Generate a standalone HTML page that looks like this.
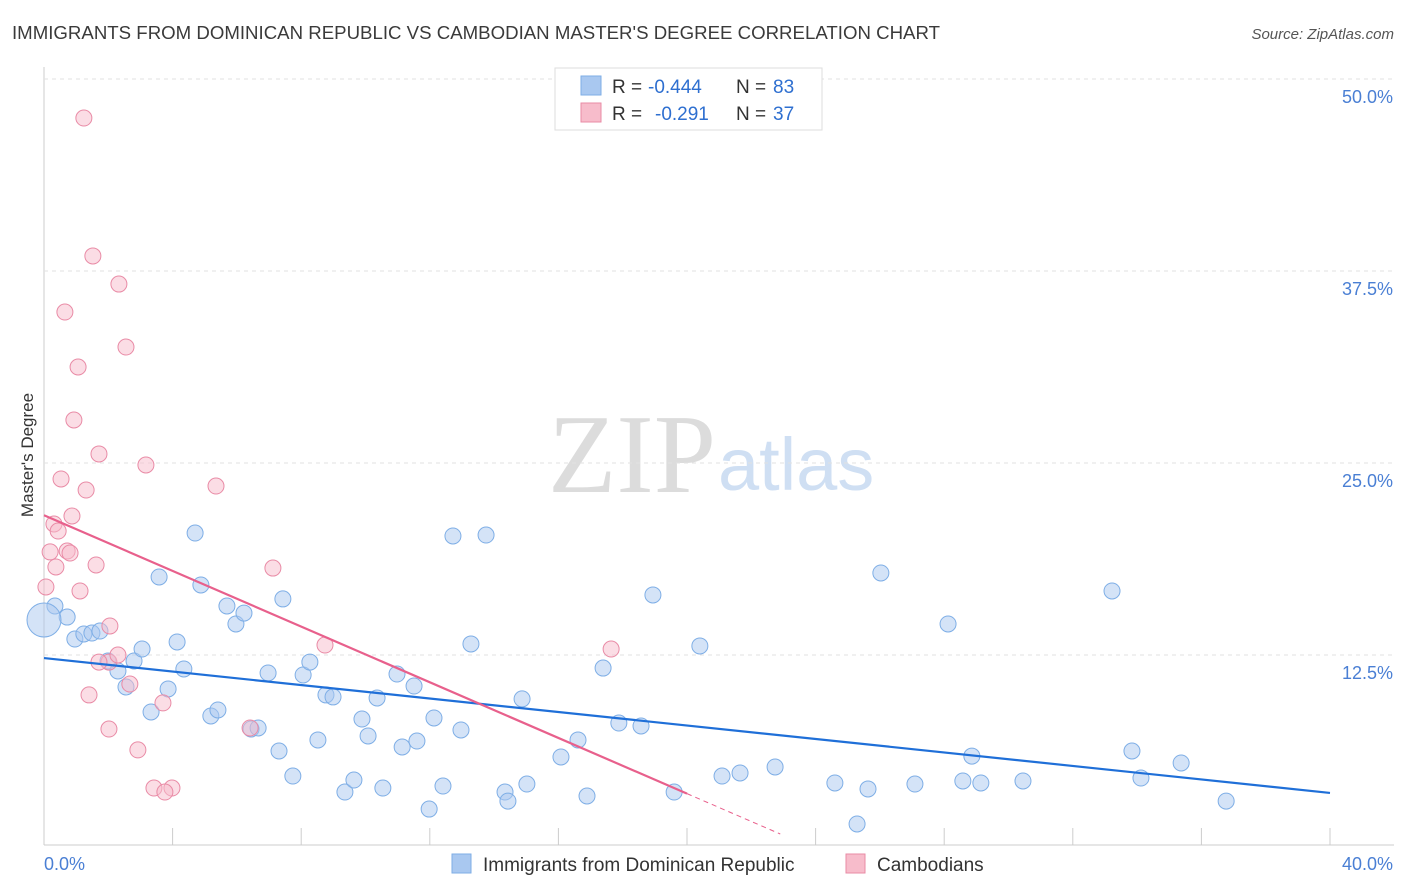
<!DOCTYPE html>
<html><head><meta charset="utf-8"><style>
body{margin:0;background:#fff;font-family:"Liberation Sans",sans-serif;}
svg{display:block}
</style></head><body>
<svg id="chart" width="1406" height="892">
<text x="12" y="39" font-size="18" fill="#3a3a3a" textLength="928" lengthAdjust="spacingAndGlyphs">IMMIGRANTS FROM DOMINICAN REPUBLIC VS CAMBODIAN MASTER'S DEGREE CORRELATION CHART</text>
<text x="1394" y="39" font-size="15" fill="#555" font-style="italic" text-anchor="end">Source: ZipAtlas.com</text>
<text x="716" y="492" font-size="112" fill="#dcdcdc" text-anchor="end" font-family="Liberation Serif,serif">ZIP</text>
<text x="718" y="490" font-size="74" fill="#cfdff3">atlas</text>
<text transform="translate(33,455) rotate(-90)" font-size="17" fill="#333" text-anchor="middle">Master's Degree</text>
<g id="grid"></g><g id="pts"></g><g id="lines"></g>
<g>
<rect x="555" y="68" width="267" height="62" fill="#fff" stroke="#ddd"/>
<rect x="581" y="76" width="20" height="19" fill="#a9c8f0" stroke="#7eaee6"/>
<rect x="581" y="103" width="20" height="19" fill="#f7bccb" stroke="#e98ba6"/>
<text x="612" y="93" font-size="19" fill="#333">R =</text>
<text x="648" y="93" font-size="19" fill="#2e6fd0">-0.444</text>
<text x="736" y="93" font-size="19" fill="#333">N =</text>
<text x="773" y="93" font-size="19" fill="#2e6fd0">83</text>
<text x="612" y="120" font-size="19" fill="#333">R =</text>
<text x="655" y="120" font-size="19" fill="#2e6fd0">-0.291</text>
<text x="736" y="120" font-size="19" fill="#333">N =</text>
<text x="773" y="120" font-size="19" fill="#2e6fd0">37</text>
</g>
<g>
<rect x="452" y="854" width="19" height="19" fill="#a9c8f0" stroke="#7eaee6"/>
<text x="483" y="871" font-size="19" fill="#333">Immigrants from Dominican Republic</text>
<rect x="846" y="854" width="19" height="19" fill="#f7bccb" stroke="#e98ba6"/>
<text x="877" y="871" font-size="19" fill="#333">Cambodians</text>
</g>
</svg>
<script>
const xTicks=[0,4,8,12,16,20,24,28,32,36,40];
const yTicks=[12.5,25,37.5,50];
const blueX=[0.34,0.72,0.96,1.24,1.49,1.74,1.99,2.30,2.55,2.80,3.05,3.33,3.58,3.86,4.14,4.35,4.70,4.88,5.19,5.41,5.69,5.97,6.22,6.44,6.66,6.97,7.31,7.43,7.74,8.06,8.27,8.52,8.77,8.99,9.36,9.64,9.89,10.08,10.36,10.54,10.98,11.14,11.51,11.60,11.98,12.13,12.41,12.72,12.97,13.28,13.75,14.34,14.43,14.87,15.02,16.08,16.61,16.89,17.39,17.88,18.57,18.94,19.60,20.40,21.09,21.65,22.74,24.60,25.29,25.63,26.03,27.09,28.12,28.58,28.86,29.14,30.45,33.22,33.84,34.12,35.37,36.77,0];
const blueY=[15.69,14.97,13.54,13.87,13.93,14.06,12.11,11.46,10.42,12.11,12.89,8.79,17.58,10.29,13.35,11.59,20.44,17.06,8.53,8.92,15.69,14.52,15.23,7.68,7.75,11.33,6.25,16.15,4.62,11.20,12.04,6.97,9.90,9.77,3.58,4.36,8.33,7.23,9.70,3.84,11.26,6.51,10.48,6.90,2.47,8.40,3.97,20.25,7.62,13.22,20.31,3.58,2.99,9.64,4.10,5.86,6.97,3.32,11.65,8.07,7.88,16.41,3.58,13.09,4.62,4.82,5.21,4.17,1.50,3.78,17.84,4.10,14.52,4.30,5.92,4.17,4.30,16.67,6.25,4.49,5.47,2.99,14.78];
const pinkX=[1.24,1.52,2.33,2.55,0.65,1.06,0.93,1.71,3.17,0.53,1.31,5.35,0.87,0.31,0.44,0.19,0.72,0.81,0.37,1.62,7.12,1.12,0.06,2.05,8.74,17.64,2.02,2.30,1.71,2.67,1.40,3.70,2.02,6.41,2.92,3.42,3.98,3.76];
const pinkY=[47.46,38.48,36.65,32.55,34.83,31.25,27.80,25.59,24.87,23.96,23.24,23.50,21.55,21.03,20.57,19.21,19.27,19.14,18.23,18.36,18.16,16.67,16.93,14.39,13.15,12.89,12.04,12.50,12.04,10.61,9.90,9.38,7.68,7.75,6.32,3.84,3.84,3.58];
const blueTrend=[12.3,3.52];
const pinkTrend=[21.6,-0.15];
const X0=44,X1=1330,Y0=847,Y1=79;
const sx=v=>X0+(v/40)*(X1-X0);
const sy=v=>Y0-(v/50)*(Y0-Y1);
const NS="http://www.w3.org/2000/svg";
function mk(tag,attrs,parent){const e=document.createElementNS(NS,tag);for(const k in attrs)e.setAttribute(k,attrs[k]);document.getElementById(parent).appendChild(e);return e;}
let ax=mk('line',{x1:X0,y1:67,x2:X0,y2:845,stroke:'#ccc'},'grid');


let bx=mk('line',{x1:X0,y1:845,x2:1394,y2:845,stroke:'#ccc'},'grid');


yTicks.forEach(t=>{
 let l=mk('line',{x1:X0,y1:sy(t),x2:1394,y2:sy(t),stroke:'#e2e2e2','stroke-dasharray':'4,4'},'grid');
 
 
 let tx=mk('text',{x:1393,y:sy(t)+24,'font-size':18,fill:'#4a7fd4','text-anchor':'end'},'grid');
 tx.textContent=t.toFixed(1)+'%';
 
 
});
xTicks.forEach(t=>{
 if(t===0)return;
 let l=mk('line',{x1:sx(t),y1:828,x2:sx(t),y2:845,stroke:'#ccc'},'grid');
 
 
});
[[0,'start',X0],[40,'end',1393]].forEach(([v,a,x])=>{
 let tx=mk('text',{x:x,y:870,'font-size':18,fill:'#4a7fd4','text-anchor':a},'grid');
 tx.textContent=v.toFixed(1)+'%';
 
 
});
blueX.forEach((v,i)=>{
 const big=i===blueX.length-1;
 let c=mk('circle',{cx:sx(v),cy:sy(blueY[i]),r:big?17:8,fill:'#a9c8f0','fill-opacity':0.5,stroke:'#7eaee6','stroke-width':1},'pts');
 
 
});
pinkX.forEach((v,i)=>{
 let c=mk('circle',{cx:sx(v),cy:sy(pinkY[i]),r:8,fill:'#f7bccb','fill-opacity':0.5,stroke:'#e98ba6','stroke-width':1},'pts');
 
 
});
let bl=mk('line',{x1:sx(0),y1:sy(blueTrend[0]),x2:sx(40),y2:sy(blueTrend[1]),stroke:'#1f6fd8','stroke-width':2.2},'lines');


const pAt=x=>pinkTrend[0]+(pinkTrend[1]-pinkTrend[0])*x/24;
let pl=mk('line',{x1:sx(0),y1:sy(pAt(0)),x2:sx(20),y2:sy(pAt(20)),stroke:'#e8608c','stroke-width':2.2},'lines');


let pd=mk('line',{x1:sx(20),y1:sy(pAt(20)),x2:sx(22.9),y2:sy(Math.max(pAt(22.9),0.1)),stroke:'#e8608c','stroke-width':1,'stroke-dasharray':'5,4'},'lines');


</script>
</body></html>
